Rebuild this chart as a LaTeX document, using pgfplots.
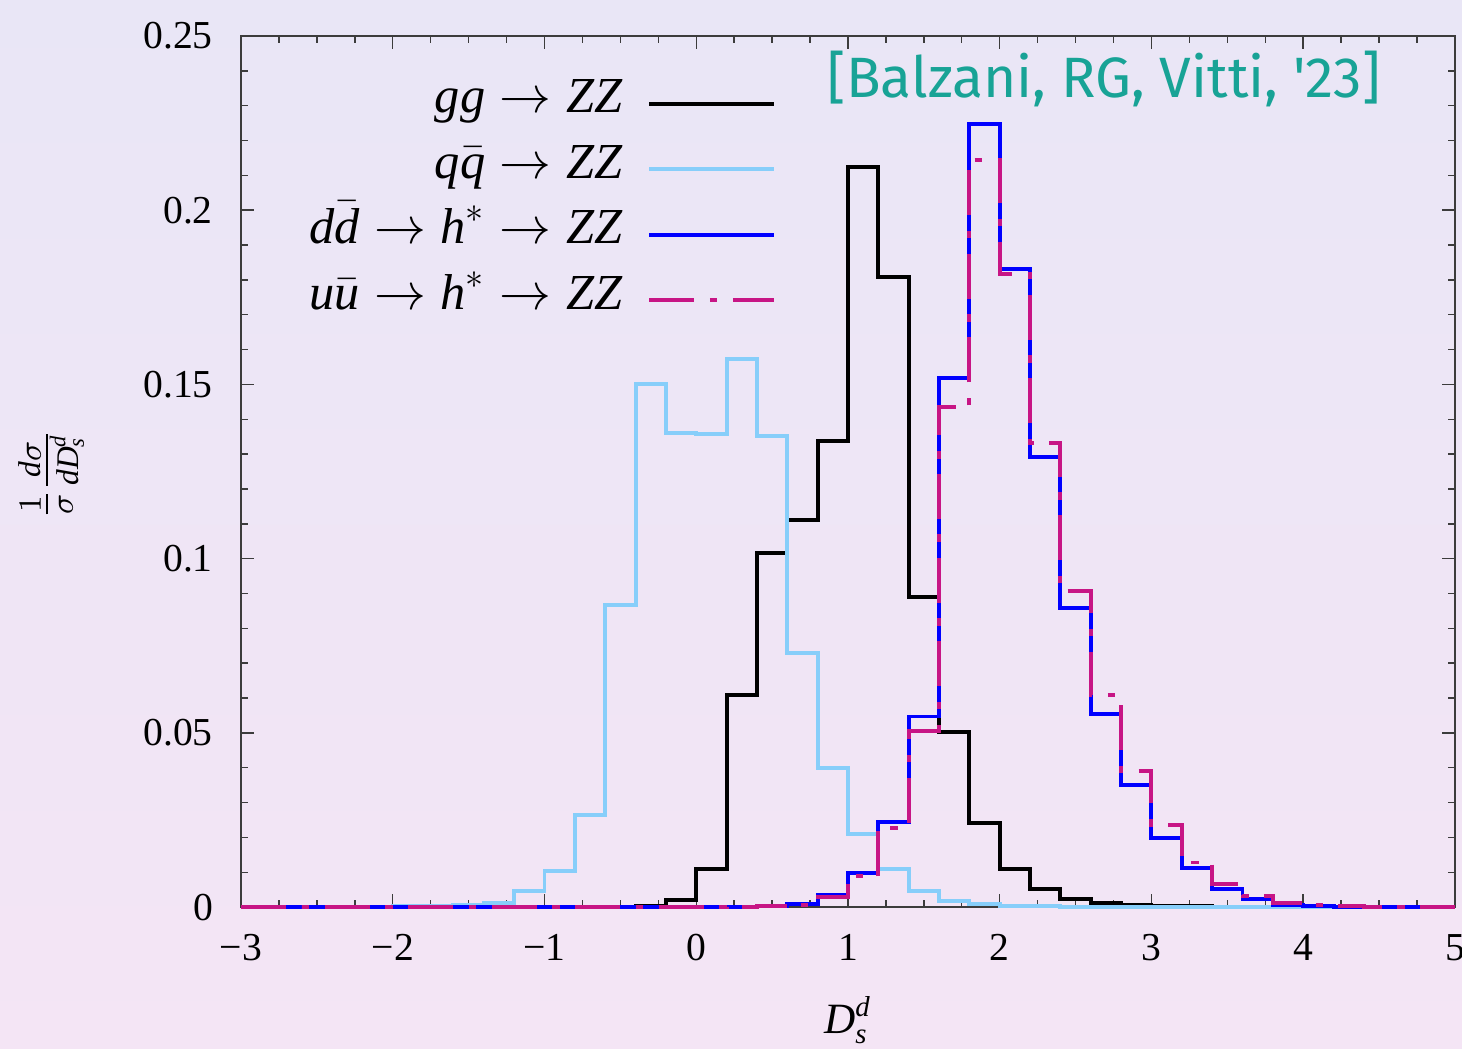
\documentclass[border=0pt]{standalone}
\usepackage{amsmath}
\usepackage{fontspec}
\setmainfont{Liberation Serif}
\newfontfamily\handfont{Fira Sans}
\usepackage{pgfplots}
\pgfplotsset{compat=1.18}
\newcommand{\mi}[1]{\text{\itshape #1}}
\definecolor{bgtop}{RGB}{233,230,246}
\definecolor{bgbot}{RGB}{244,229,245}
\definecolor{qqblue}{RGB}{135,206,250}
\definecolor{uumag}{RGB}{199,21,133}
\definecolor{attrib}{RGB}{24,163,150}
\definecolor{axgray}{RGB}{60,60,60}
\pgfplotsset{
  mylegimg/.style={legend image code/.code={\draw[##1] (0pt,-0.8pt) -- (34.7pt,-0.8pt);}},
}
\begin{document}
\begin{tikzpicture}
\path[use as bounding box] (-66.93pt,-39.16pt) rectangle (339.07pt,251.9pt);
\shade[top color=bgtop, bottom color=bgbot] (-66.93pt,-39.16pt) rectangle (339.07pt,251.9pt);
\begin{axis}[
  at={(0pt,0pt)}, anchor=south west,
  scale only axis, width=337.1pt, height=241.9pt,
  xmin=-3, xmax=5, ymin=0, ymax=0.25,
  clip=false,
  axis line style={axgray, line width=0.5pt},
  tick style={axgray, line width=0.4pt},
  tick align=inside,
  xtick pos=both, ytick pos=both,
  xticklabel pos=lower, yticklabel pos=left,
  major tick length=3.7pt, minor tick length=1.9pt,
  xtick={-3,-2,-1,0,1,2,3,4,5},
  xticklabels={−3,−2,−1,0,1,2,3,4,5},
  minor x tick num=3,
  ytick={0,0.05,0.1,0.15,0.2,0.25},
  yticklabels={0,0.05,0.1,0.15,0.2,0.25},
  minor y tick num=4,
  scaled y ticks=false,
  tick label style={font=\fontsize{11}{13}\selectfont},
  xticklabel style={yshift=-4pt},
  yticklabel style={xshift=-4.3pt},
  xlabel={$\mi{D}_{\mi{s}}^{\mi{d}}$},
  xlabel style={at={(axis description cs:0.5,-0.13)}, anchor=center, font=\fontsize{12}{14}\selectfont},
  ylabel={$\frac{1}{\sigma}\frac{\mi{d}\sigma}{\mi{dD}_{\mi{s}}^{\mi{d}}}$},
  ylabel style={at={(axis description cs:-0.156,0.497)}, anchor=center, font=\fontsize{12.5}{14}\selectfont},
  legend plot pos=right,
  legend cell align=right,
  mylegimg,
  legend style={
    at={(axis description cs:0.4415,0.9585)}, anchor=north east,
    draw=none, fill=none, inner sep=0pt,
    font=\fontsize{14}{16}\selectfont,
    row sep=2.7pt, column sep=6pt,
    nodes={inner sep=1pt, text height=10pt, text depth=3.5pt},
  },
]
\addplot[const plot, black, line width=1.1pt] table {
x y
-3.0 0
-2.8 0
-2.6 0
-2.4 0
-2.2 0
-2.0 0
-1.8 0
-1.6 0
-1.4 0
-1.2 0
-1.0 0
-0.8 0
-0.6 0
-0.4 0.0003
-0.2 0.0020
0.0 0.0110
0.2 0.0610
0.4 0.1017
0.6 0.1112
0.8 0.1337
1.0 0.2124
1.2 0.1808
1.4 0.0890
1.6 0.0502
1.8 0.0240
2.0 0.0108
2.2 0.0053
2.4 0.0023
2.6 0.0011
2.8 0.0005
3.0 0.0003
3.2 0.0002
3.4 0.0001
3.6 0
3.8 0
4.0 0
4.2 0
4.4 0
4.6 0
4.8 0
5.0 0
};
\addlegendentry{$\mi{gg}\rightarrow \mi{ZZ}$}
\addplot[const plot, qqblue, line width=1.1pt] table {
x y
-3.0 0
-2.8 0
-2.6 0
-2.4 0
-2.2 0.0001
-2.0 0.0002
-1.8 0.0003
-1.6 0.0006
-1.4 0.0013
-1.2 0.0045
-1.0 0.0103
-0.8 0.0265
-0.6 0.0868
-0.4 0.1502
-0.2 0.1360
0.0 0.1357
0.2 0.1574
0.4 0.1352
0.6 0.0730
0.8 0.0399
1.0 0.0211
1.2 0.0108
1.4 0.0045
1.6 0.0018
1.8 0.0008
2.0 0.0004
2.2 0.0002
2.4 0.0001
2.6 0.0001
2.8 0
3.0 0
3.2 0
3.4 0
3.6 0
3.8 0
4.0 0
4.2 0
4.4 0
4.6 0
4.8 0
5.0 0
};
\addlegendentry{$\mi{q}\bar{\mi{q}}\rightarrow \mi{ZZ}$}
\addplot[const plot, blue, line width=1.1pt] table {
x y
-3.0 0
-2.8 0
-2.6 0
-2.4 0
-2.2 0
-2.0 0
-1.8 0
-1.6 0
-1.4 0
-1.2 0
-1.0 0
-0.8 0
-0.6 0
-0.4 0
-0.2 0
0.0 0
0.2 0.0001
0.4 0.0002
0.6 0.0008
0.8 0.0035
1.0 0.0097
1.2 0.0245
1.4 0.0547
1.6 0.1518
1.8 0.2247
2.0 0.1831
2.2 0.1293
2.4 0.0858
2.6 0.0554
2.8 0.0350
3.0 0.0199
3.2 0.0111
3.4 0.0052
3.6 0.0022
3.8 0.0007
4.0 0.0003
4.2 0.0001
4.4 0
4.6 0
4.8 0
5.0 0
};
\addlegendentry{$\mi{d}\bar{\mi{d}}\rightarrow \mi{h}^{*}\rightarrow \mi{ZZ}$}
\addplot[const plot, uumag, line width=1.1pt, dash pattern=on 12.5pt off 4.3pt on 2.1pt off 4.3pt] table {
x y
-3.0 0
-2.8 0
-2.6 0
-2.4 0
-2.2 0
-2.0 0
-1.8 0
-1.6 0
-1.4 0
-1.2 0
-1.0 0
-0.8 0
-0.6 0
-0.4 0
-0.2 0
0.0 0
0.2 0.0001
0.4 0.0002
0.6 0.0006
0.8 0.0028
1.0 0.0088
1.2 0.0228
1.4 0.0505
1.6 0.1435
1.8 0.2144
2.0 0.1817
2.2 0.1332
2.4 0.0906
2.6 0.0608
2.8 0.0390
3.0 0.0235
3.2 0.0128
3.4 0.0066
3.6 0.0031
3.8 0.0012
4.0 0.0006
4.2 0.0003
4.4 0.0001
4.6 0
4.8 0
5.0 0
};
\addlegendentry{$\mi{u}\bar{\mi{u}}\rightarrow \mi{h}^{*}\rightarrow \mi{ZZ}$}
\node[text=attrib, font=\handfont\fontsize{15.8}{18}\selectfont] at (axis description cs:0.711,0.951) {[Balzani, RG, Vitti, '23]};
\end{axis}
\end{tikzpicture}
\end{document}
